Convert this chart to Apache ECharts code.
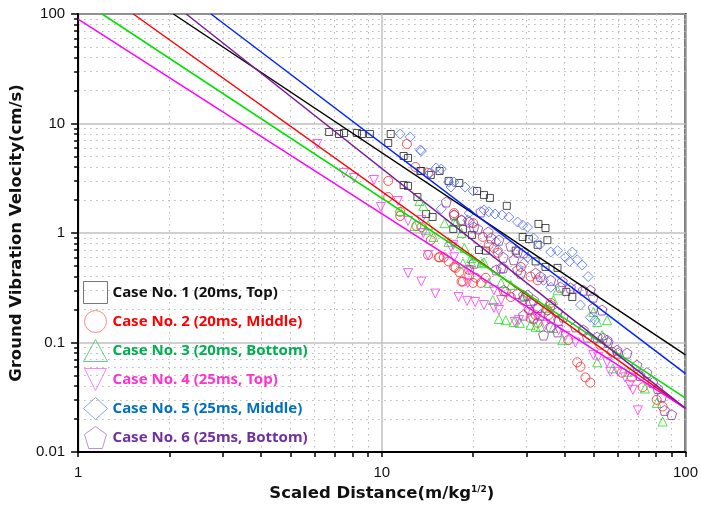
<!DOCTYPE html>
<html>
<head>
<meta charset="utf-8">
<script src="https://cdn.jsdelivr.net/npm/echarts@6/dist/echarts.min.js"></script>
<style>
  html, body { margin: 0; padding: 0; background: #fff; }
  #chart { width: 701px; height: 512px; }
</style>
</head>
<body>
<div id="chart"></div>
<script>
// legend names
var caseNames = [
  'Case No. 1 (20ms, Top)',
  'Case No. 2 (20ms, Middle)',
  'Case No. 3 (20ms, Bottom)',
  'Case No. 4 (25ms, Top)',
  'Case No. 5 (25ms, Middle)',
  'Case No. 6 (25ms, Bottom)'
];

// measured points [scaled distance, PPV]
var case1 = [[6.71,8.36],[7.23,8.02],[7.51,8.19],[8.28,8.19],[8.60,8.02],[9.14,8.02],[10.7,8.02],[10.5,6.64],[11.8,5.05],[12.2,4.84],[13.4,3.68],[11.8,2.74],[12.2,2.69],[13.1,2.13],[13.5,3.68],[14.5,3.39],[15.5,3.68],[16.6,2.99],[18.0,2.86],[20.6,2.42],[21.7,2.22],[22.7,2.09],[25.8,1.77],[32.8,1.21],[34.6,1.11],[14.7,1.40],[14.0,1.49],[17.2,1.09],[18.5,1.09],[19.8,0.96],[20.9,0.70],[22.0,0.69],[27.6,0.69],[29.1,0.92],[30.5,0.88],[32.6,0.78],[35.1,0.86],[32.1,0.55],[34.6,0.49],[37.9,0.48],[42.4,0.26],[40.5,0.29]];
var case2 = [[12.1,6.50],[10.5,2.99],[10.5,2.13],[11.5,1.56],[11.5,1.43],[13.0,1.16],[13.5,1.13],[12.9,4.01],[14.2,3.53],[14.5,0.86],[15.4,0.60],[16.0,0.60],[16.6,0.55],[17.3,0.49],[18.0,0.44],[18.5,0.36],[19.4,0.46],[14.2,0.63],[15.5,0.60],[17.5,0.48],[18.3,0.36],[19.4,0.41],[20.4,0.39],[21.2,0.35],[22.0,0.39],[20.0,0.35],[25.6,0.29],[26.6,0.26],[29.1,0.244],[30.5,0.198],[32.1,0.178],[35.4,0.178],[17.3,1.46],[18.3,1.31],[20.0,1.23],[21.5,0.92],[22.5,0.78],[24.1,0.66],[17.3,1.52],[23.4,0.73],[28.7,0.49],[30.9,0.40],[32.6,0.37],[36.0,0.23],[35.1,0.198],[44.0,0.066],[45.1,0.060],[46.8,0.048],[48.6,0.043],[41.1,0.105],[30.9,0.167],[32.6,0.151],[52.4,0.095],[57.3,0.082],[61.8,0.053],[66.6,0.048],[72.3,0.039],[80.4,0.030],[84.1,0.026]];
var case3 = [[13.3,1.96],[11.5,1.59],[12.8,1.16],[13.7,1.77],[16.1,1.23],[17.3,1.26],[14.0,1.06],[14.8,0.92],[18.3,1.0],[18.7,0.73],[21.4,0.53],[16.6,0.83],[18.5,0.53],[19.7,0.54],[22.5,0.35],[24.7,0.35],[23.2,0.244],[24.3,0.164],[25.6,0.160],[27.2,0.154],[28.5,0.151],[30.9,0.145],[32.1,0.139],[33.3,0.139],[29.1,0.26],[34.6,0.207],[17.6,1.26],[19.7,0.59],[21.7,0.54],[26.6,0.335],[36.7,0.244],[37.9,0.30],[49.7,0.190],[51.2,0.154],[55.2,0.160],[53.1,0.117],[51.2,0.066],[57.7,0.058],[64.6,0.054],[73.5,0.038],[80.4,0.028],[84.1,0.019],[36.7,0.136],[39.3,0.105],[14.2,1.18]];
var case4 = [[6.13,6.50],[7.51,3.53],[8.10,3.18],[9.42,3.05],[11.3,1.96],[9.93,1.73],[12.2,1.29],[13.5,1.31],[13.7,1.0],[14.2,0.63],[12.2,0.43],[13.5,0.36],[15.0,0.28],[17.3,0.60],[17.9,0.26],[19.1,0.24],[20.3,0.234],[21.7,0.22],[23.4,0.207],[24.3,0.198],[27.4,0.154],[28.3,0.160],[24.7,0.244],[19.2,0.35],[17.2,0.78],[16.9,0.745],[19.4,0.46],[23.4,0.30],[30.2,0.198],[32.6,0.171],[49.7,0.077],[51.6,0.074],[55.2,0.066],[56.5,0.054],[63.2,0.048],[67.1,0.037],[69.7,0.024],[59.9,0.054],[65.6,0.041],[38.2,0.130],[43.4,0.1],[34.6,0.145],[40.2,0.115]];
var case5 = [[11.5,8.02],[12.4,7.53],[13.4,5.73],[14.4,3.53],[13.5,5.61],[15.1,3.93],[15.7,3.84],[16.6,2.92],[17.3,2.92],[18.8,2.63],[20.0,2.42],[21.7,1.62],[22.5,1.56],[23.6,1.49],[24.9,1.46],[26.2,1.40],[28.0,1.26],[29.1,1.18],[30.2,1.13],[19.4,1.52],[19.2,1.31],[15.7,1.66],[31.6,0.90],[33.1,0.78],[30.2,0.60],[29.3,0.53],[16.9,2.63],[36.0,0.67],[37.9,0.69],[40.2,0.60],[42.4,0.67],[44.0,0.57],[45.7,0.51],[47.8,0.40],[23.8,0.83],[24.1,0.70],[34.1,0.37],[36.0,0.32],[45.1,0.22],[48.6,0.17],[50.4,0.16],[41.5,0.55]];
var case6 = [[16.3,1.92],[19.4,1.26],[20.1,1.13],[17.3,1.46],[20.7,1.09],[22.9,0.90],[24.3,0.86],[26.6,0.76],[25.1,0.60],[27.2,0.57],[20.1,0.53],[29.3,0.66],[18.3,1.31],[22.4,1.02],[28.0,0.67],[25.1,0.48],[28.0,0.46],[33.3,0.40],[36.0,0.37],[38.7,0.32],[41.8,0.315],[46.1,0.30],[48.6,0.30],[49.7,0.207],[53.1,0.198],[29.3,0.27],[31.6,0.244],[36.0,0.22],[37.9,0.190],[39.6,0.171],[43.4,0.139],[46.1,0.130],[51.2,0.112],[53.5,0.110],[55.6,0.1],[59.5,0.085],[64.2,0.080],[69.2,0.062],[74.6,0.053],[78.0,0.043],[81.0,0.038],[85.3,0.024],[90.0,0.022],[33.3,0.178],[37.9,0.125],[34.1,0.117],[36.0,0.139],[23.8,0.46],[24.7,0.48],[28.7,0.43],[32.1,0.43],[28.0,0.28],[30.2,0.27],[30.9,0.23],[32.6,0.207],[31.6,0.167],[29.3,0.178],[25.2,0.30],[36.0,0.167],[38.2,0.160],[47.5,0.112],[55.2,0.105],[59.9,0.080],[70.8,0.050],[83.5,0.032],[39.3,0.36],[44.0,0.315],[49.7,0.26],[21.2,1.56]];

// regression line end points
var fit1 = [[2.06,100],[100,0.077]];
var fit2 = [[1.52,100],[100,0.025]];
var fit3 = [[1.20,100],[100,0.031]];
var fit4 = [[1,90],[100,0.025]];
var fit5 = [[2.74,100],[100,0.052]];
var fit6 = [[2.27,100],[100,0.025]];

var myChart = echarts.init(document.getElementById('chart'));

var pts = [case1, case2, case3, case4, case5, case6];
var fits = [fit1, fit2, fit3, fit4, fit5, fit6];
var symbols = ['rect', 'circle', 'triangle', 'path://M0,0L100,0L50,100Z', 'diamond', 'path://M50,0L100,36L81,100L19,100L0,36Z'];
var sizes = [7, 9, 9, 9, 10, 10];
var markColor = ['#222222', '#ff2a2a', '#22dd22', '#ff33ff', '#4a6cff', '#8a3aa8'];
var lineColor = ['#000000', '#ff0000', '#00e000', '#ff00ff', '#0022ff', '#7a1a9a'];
var textColor = ['#111111', '#ff0000', '#00b050', '#ff33cc', '#0070c0', '#7030a0'];
var iconColor = ['#555555', '#ff6a6a', '#40c070', '#ff66ff', '#7890c0', '#a878cc'];

var series = [];
for (var i = 0; i < 6; i++) {
  series.push({
    name: caseNames[i],
    type: 'scatter',
    data: pts[i],
    symbol: symbols[i],
    symbolSize: sizes[i],
    itemStyle: { color: 'rgba(0,0,0,0)', borderColor: markColor[i], borderWidth: 1 },
    z: 2
  });
}
for (var j = 0; j < 6; j++) {
  series.push({
    name: 'fit' + (j + 1),
    type: 'line',
    data: fits[j],
    showSymbol: false,
    symbol: 'none',
    lineStyle: { color: lineColor[j], width: 1.5 },
    z: 3
  });
}

var legendData = caseNames.map(function (n, k) {
  return {
    name: n,
    itemStyle: { color: 'rgba(0,0,0,0)', borderColor: iconColor[k], borderWidth: 1 },
    textStyle: { color: textColor[k] }
  };
});

var option = {
  animation: false,
  backgroundColor: '#fff',
  grid: {
    left: 74, right: 15, top: 14, bottom: 60,
    show: true, borderColor: '#000', borderWidth: 2, backgroundColor: 'rgba(0,0,0,0)'
  },
  legend: {
    orient: 'vertical',
    left: 78, top: 276,
    itemWidth: 24, itemHeight: 22, itemGap: 6,
    data: legendData,
    textStyle: { fontFamily: 'Noto Sans', fontWeight: 'bold', fontSize: 15 }
  },
  xAxis: {
    type: 'log', logBase: 10, min: 1, max: 100,
    name: 'Scaled Distance(m/kg{sup|1/2})',
    nameLocation: 'middle', nameGap: 29,
    nameTextStyle: {
      fontFamily: 'DejaVu Sans', fontWeight: 'bold', fontSize: 16.5, color: '#111',
      rich: { sup: { fontFamily: 'DejaVu Sans', fontWeight: 'bold', fontSize: 9, verticalAlign: 'top', color: '#111' } }
    },
    axisLine: { lineStyle: { color: '#000', width: 2 } },
    axisTick: { inside: false, length: 5, lineStyle: { color: '#000', width: 1.5 } },
    minorTick: { show: true, splitNumber: 9, length: 5, lineStyle: { color: '#000', width: 1.5 } },
    axisLabel: { fontFamily: 'Liberation Sans', fontSize: 15, color: '#111', margin: 13 },
    splitLine: { show: true, lineStyle: { color: '#c0c0c0', width: 1.5 } },
    minorSplitLine: { show: true, lineStyle: { color: '#b8b8b8', width: 1, type: [1.5, 4.5] } }
  },
  yAxis: {
    type: 'log', logBase: 10, min: 0.01, max: 100,
    name: 'Ground Vibration Velocity(cm/s)',
    nameLocation: 'middle', nameGap: 45,
    nameTextStyle: { fontFamily: 'DejaVu Sans', fontWeight: 'bold', fontSize: 16.5, color: '#111' },
    axisLine: { lineStyle: { color: '#000', width: 2 } },
    axisTick: { inside: false, length: 7, lineStyle: { color: '#000', width: 1.5 } },
    minorTick: { show: true, splitNumber: 9, length: 4, lineStyle: { color: '#000', width: 1.5 } },
    axisLabel: { fontFamily: 'Liberation Sans', fontSize: 15, color: '#111', margin: 13 },
    splitLine: { show: true, lineStyle: { color: '#c0c0c0', width: 1.5 } },
    minorSplitLine: { show: true, lineStyle: { color: '#b8b8b8', width: 1, type: [1.5, 4.5] } }
  },
  series: series
};

myChart.setOption(option);
</script>
</body>
</html>
